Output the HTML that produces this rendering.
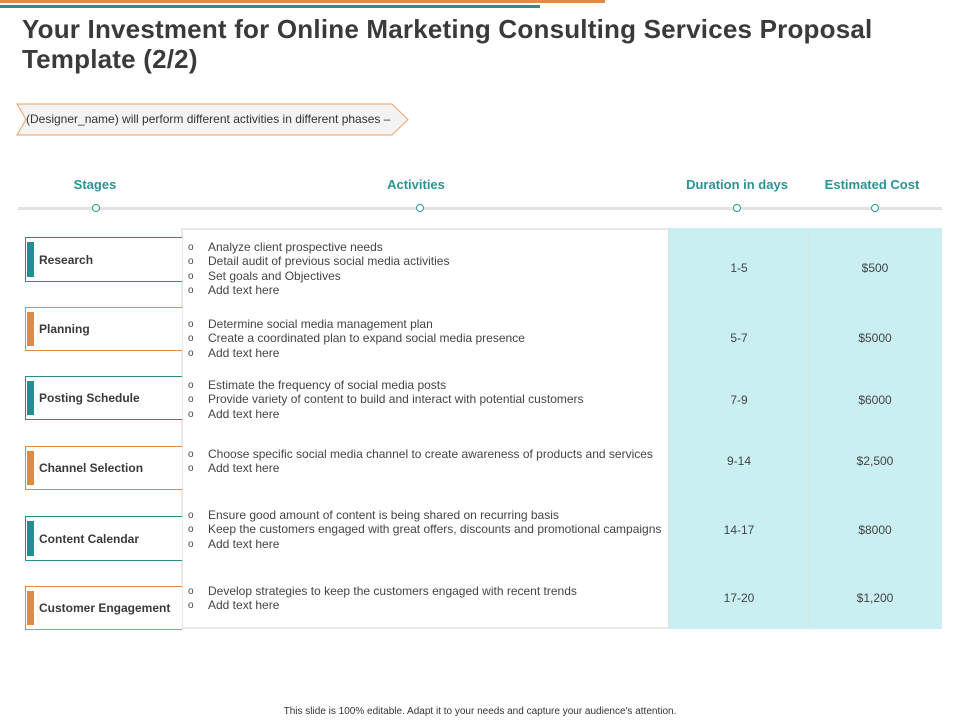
<!DOCTYPE html>
<html><head><meta charset="utf-8"><style>
body{margin:0;width:960px;height:720px;background:#fff;position:relative;overflow:hidden;font-family:"Liberation Sans",Arial,sans-serif;}
.a{position:absolute;}
.title{left:22px;top:14px;font-size:26px;font-weight:bold;color:#3a3a3a;line-height:30px;letter-spacing:0.2px;}
.hdr{top:177px;font-size:13px;font-weight:bold;color:#2a9494;transform:translateX(-50%);white-space:nowrap;}
.dot{width:6px;height:6px;border:1px solid #2a9494;border-radius:50%;background:#fff;top:204px;transform:translateX(-50%);}
.stage{left:25px;width:156px;border:1px solid #2a8c8c;border-right:none;background:#fff;}
.stage.o{border-color:#e08a45;}
.stage .bar{position:absolute;left:1px;top:4px;bottom:4px;width:7px;background:#1e9090;}
.stage.o .bar{background:#e08a45;}
.stage .lbl{position:absolute;left:13px;top:50%;transform:translateY(-50%);font-size:12px;font-weight:bold;color:#3a3a3a;}
.acts{left:188px;font-size:12px;color:#444;}
.acts div{white-space:nowrap;height:14.3px;line-height:14.3px;position:relative;padding-left:20px;}
.acts span{position:absolute;left:0;top:1px;font-size:10px;line-height:14.3px;}
.val{font-size:12px;color:#444;transform:translate(-50%,-50%);white-space:nowrap;}
</style></head><body>
<div class="a" style="left:0;top:0;width:605px;height:3px;background:#e08a45"></div>
<div class="a" style="left:0;top:5px;width:540px;height:3px;background:#2a8c8c"></div>
<div class="a title">Your Investment for Online Marketing Consulting Services Proposal<br>Template (2/2)</div>
<svg class="a" style="left:16px;top:103px" width="395" height="33"><polygon points="1,1 376,1 392,16.5 376,32 1,32 10,16.5" fill="#f3f3f3" stroke="#e9a26a" stroke-width="1"/></svg>
<div class="a" style="left:26px;top:112px;font-size:12px;color:#333">(Designer_name) will perform different activities in different phases –</div>
<div class="a hdr" style="left:95px">Stages</div>
<div class="a hdr" style="left:416px">Activities</div>
<div class="a hdr" style="left:737px">Duration in days</div>
<div class="a hdr" style="left:872px">Estimated Cost</div>
<div class="a" style="left:18px;top:207px;width:924px;height:3px;background:#e3e3e3"></div>
<div class="a dot" style="left:96px"></div>
<div class="a dot" style="left:420px"></div>
<div class="a dot" style="left:737px"></div>
<div class="a dot" style="left:875px"></div>
<div class="a" style="left:181px;top:228px;width:487px;height:401px;background:#fff;border-top:2px solid #e8e8e8;border-left:2px solid #e8e8e8;border-bottom:2px solid #e8e8e8;box-sizing:border-box"></div>
<div class="a" style="left:668px;top:228px;width:140px;height:401px;background:#c9eff2;border-left:1px solid #d8e4e4;box-sizing:border-box"></div>
<div class="a" style="left:808px;top:228px;width:134px;height:401px;background:#c9eff2;border-left:1px solid #d8e4e4;box-sizing:border-box"></div>

<div class="a stage" style="top:237px;height:43px"><div class="bar"></div><div class="lbl">Research</div></div>
<div class="a stage o" style="top:307px;height:42px"><div class="bar"></div><div class="lbl">Planning</div></div>
<div class="a stage" style="top:376px;height:42px"><div class="bar"></div><div class="lbl">Posting Schedule</div></div>
<div class="a stage o" style="top:446px;height:42px"><div class="bar"></div><div class="lbl">Channel Selection</div></div>
<div class="a stage" style="top:516px;height:43px"><div class="bar"></div><div class="lbl">Content Calendar</div></div>
<div class="a stage o" style="top:586px;height:42px"><div class="bar"></div><div class="lbl">Customer Engagement</div></div>

<div class="a acts" style="top:240px">
<div><span>o</span>Analyze  client prospective needs</div><div><span>o</span>Detail audit of previous social media activities</div><div><span>o</span>Set goals and Objectives</div><div><span>o</span>Add text here</div></div>
<div class="a acts" style="top:317px">
<div><span>o</span>Determine social media management plan</div><div><span>o</span>Create a coordinated plan to expand social media presence</div><div><span>o</span>Add text here</div></div>
<div class="a acts" style="top:378px">
<div><span>o</span>Estimate the frequency of social media posts</div><div><span>o</span>Provide variety  of content to build and interact with potential customers</div><div><span>o</span>Add text here</div></div>
<div class="a acts" style="top:447px">
<div><span>o</span>Choose specific social media channel to create awareness of products and services</div><div><span>o</span>Add text here</div></div>
<div class="a acts" style="top:508px">
<div><span>o</span>Ensure good amount of content is being shared on recurring basis</div><div><span>o</span>Keep the customers engaged with great offers, discounts and promotional campaigns</div><div><span>o</span>Add text here</div></div>
<div class="a acts" style="top:584px">
<div><span>o</span>Develop strategies to keep the customers engaged with recent trends</div><div><span>o</span>Add text here</div></div>

<div class="a val" style="left:739px;top:268px">1-5</div>
<div class="a val" style="left:875px;top:268px">$500</div>
<div class="a val" style="left:739px;top:338px">5-7</div>
<div class="a val" style="left:875px;top:338px">$5000</div>
<div class="a val" style="left:739px;top:400px">7-9</div>
<div class="a val" style="left:875px;top:400px">$6000</div>
<div class="a val" style="left:739px;top:461px">9-14</div>
<div class="a val" style="left:875px;top:461px">$2,500</div>
<div class="a val" style="left:739px;top:530px">14-17</div>
<div class="a val" style="left:875px;top:530px">$8000</div>
<div class="a val" style="left:739px;top:598px">17-20</div>
<div class="a val" style="left:875px;top:598px">$1,200</div>

<div class="a" style="left:0;width:960px;text-align:center;top:706px;font-size:10px;color:#333">This slide is 100% editable.  Adapt it to your needs and capture your audience's attention.</div>
</body></html>
